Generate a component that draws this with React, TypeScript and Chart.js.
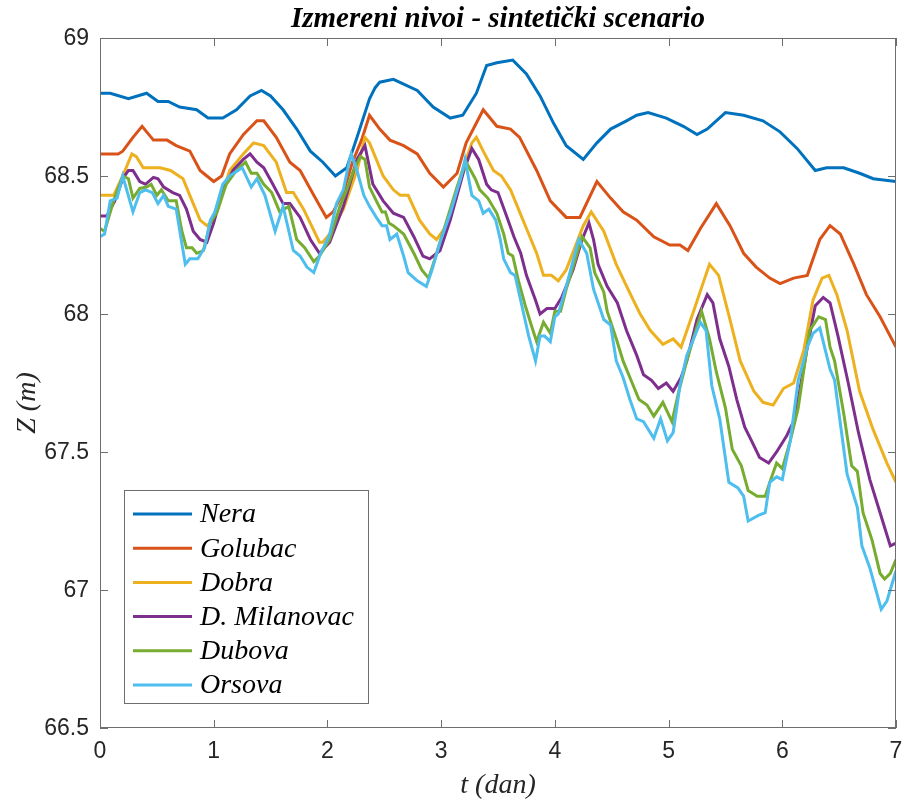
import { useEffect, useRef } from "react";
import { Chart, registerables } from "chart.js";

Chart.register(...registerables);

type Pt = [number, number]; // [t (dan), Z (m)]

const TITLE = "Izmereni nivoi - sintetički scenario";
const X_LABEL = "t (dan)";
const Y_LABEL = "Z (m)";
const X_TICKS = [0, 1, 2, 3, 4, 5, 6, 7];
const Y_TICKS = [66.5, 67, 67.5, 68, 68.5, 69];
const STATIONS = ["Nera", "Golubac", "Dobra", "D. Milanovac", "Dubova", "Orsova"];
const COLORS = ["#0072BD", "#D95319", "#EDB120", "#7E2F8E", "#77AC30", "#4DBEEE"];

const nera: Pt[] = [
  [0, 68.8], [0.09, 68.8], [0.25, 68.78], [0.41, 68.8], [0.51, 68.77], [0.6, 68.77],
  [0.7, 68.75], [0.85, 68.74], [0.95, 68.71], [1.08, 68.71], [1.2, 68.74], [1.32, 68.79],
  [1.42, 68.81], [1.5, 68.79], [1.61, 68.74], [1.73, 68.67], [1.85, 68.59], [1.96, 68.55],
  [2.07, 68.5], [2.17, 68.53], [2.26, 68.64], [2.37, 68.78], [2.42, 68.82], [2.46, 68.84],
  [2.58, 68.85], [2.79, 68.81], [2.93, 68.75], [3.08, 68.71], [3.19, 68.72], [3.31, 68.8],
  [3.4, 68.9], [3.49, 68.91], [3.63, 68.92], [3.75, 68.87], [3.87, 68.79], [3.99, 68.69],
  [4.1, 68.61], [4.25, 68.56], [4.37, 68.62], [4.49, 68.67], [4.63, 68.7], [4.72, 68.72],
  [4.82, 68.73], [4.98, 68.71], [5.13, 68.68], [5.25, 68.65], [5.34, 68.67], [5.5, 68.73],
  [5.66, 68.72], [5.83, 68.7], [5.98, 68.66], [6.13, 68.6], [6.29, 68.52], [6.39, 68.53],
  [6.54, 68.53], [6.68, 68.51], [6.8, 68.49], [7.0, 68.48],
];

const golubac: Pt[] = [
  [0, 68.58], [0.16, 68.58], [0.2, 68.59], [0.29, 68.64], [0.37, 68.68], [0.47, 68.63],
  [0.59, 68.63], [0.67, 68.61], [0.79, 68.59], [0.88, 68.52], [1.0, 68.48], [1.07, 68.5],
  [1.14, 68.58], [1.26, 68.65], [1.38, 68.7], [1.44, 68.7], [1.55, 68.64], [1.67, 68.55],
  [1.76, 68.52], [1.88, 68.43], [1.99, 68.35], [2.05, 68.37], [2.14, 68.44], [2.22, 68.55],
  [2.3, 68.63], [2.37, 68.72], [2.46, 68.67], [2.55, 68.63], [2.67, 68.61], [2.79, 68.58],
  [2.9, 68.51], [3.02, 68.46], [3.14, 68.51], [3.22, 68.62], [3.37, 68.74], [3.49, 68.68],
  [3.61, 68.67], [3.69, 68.64], [3.84, 68.52], [3.96, 68.41], [4.1, 68.35], [4.22, 68.35],
  [4.37, 68.48], [4.49, 68.42], [4.6, 68.37], [4.72, 68.34], [4.87, 68.28], [5.01, 68.25],
  [5.1, 68.25], [5.17, 68.23], [5.28, 68.31], [5.42, 68.4], [5.54, 68.32], [5.66, 68.22],
  [5.77, 68.17], [5.89, 68.13], [5.98, 68.11], [6.1, 68.13], [6.22, 68.14], [6.33, 68.27],
  [6.42, 68.32], [6.51, 68.29], [6.63, 68.18], [6.74, 68.07], [6.86, 67.99], [7.0, 67.88],
];

const dobra: Pt[] = [
  [0, 68.43], [0.12, 68.43], [0.2, 68.5], [0.28, 68.58], [0.32, 68.57], [0.38, 68.53],
  [0.53, 68.53], [0.62, 68.52], [0.73, 68.49], [0.79, 68.43], [0.88, 68.34], [0.94, 68.32],
  [1.0, 68.34], [1.14, 68.52], [1.26, 68.58], [1.35, 68.62], [1.44, 68.61], [1.55, 68.55],
  [1.64, 68.44], [1.7, 68.44], [1.79, 68.38], [1.93, 68.26], [1.96, 68.26], [2.02, 68.29],
  [2.14, 68.38], [2.26, 68.52], [2.33, 68.64], [2.37, 68.62], [2.49, 68.5], [2.58, 68.45],
  [2.64, 68.43], [2.71, 68.43], [2.81, 68.34], [2.9, 68.29], [2.96, 68.27], [3.05, 68.32],
  [3.17, 68.5], [3.27, 68.62], [3.31, 68.64], [3.37, 68.59], [3.46, 68.52], [3.53, 68.5],
  [3.61, 68.45], [3.68, 68.38], [3.77, 68.29], [3.84, 68.22], [3.9, 68.14], [3.97, 68.14],
  [4.03, 68.12], [4.1, 68.16], [4.25, 68.32], [4.32, 68.37], [4.43, 68.3], [4.54, 68.18],
  [4.62, 68.11], [4.69, 68.05], [4.75, 68.0], [4.84, 67.94], [4.95, 67.89], [5.04, 67.91],
  [5.11, 67.88], [5.22, 68.01], [5.31, 68.12], [5.36, 68.18], [5.44, 68.14], [5.54, 67.98],
  [5.63, 67.83], [5.75, 67.72], [5.83, 67.68], [5.92, 67.67], [6.01, 67.73], [6.1, 67.75],
  [6.19, 67.87], [6.27, 68.05], [6.35, 68.13], [6.41, 68.14], [6.48, 68.07], [6.57, 67.94],
  [6.68, 67.72], [6.8, 67.58], [6.92, 67.46], [7.0, 67.39],
];

const milanovac: Pt[] = [
  [0, 68.355], [0.06, 68.355], [0.13, 68.41], [0.2, 68.49], [0.25, 68.52], [0.29, 68.52],
  [0.35, 68.48], [0.4, 68.47], [0.47, 68.495], [0.51, 68.49], [0.56, 68.46], [0.64, 68.44],
  [0.7, 68.43], [0.76, 68.38], [0.82, 68.3], [0.88, 68.27], [0.94, 68.26], [1.0, 68.33],
  [1.08, 68.45], [1.17, 68.52], [1.26, 68.56], [1.32, 68.58], [1.38, 68.55], [1.44, 68.53],
  [1.52, 68.47], [1.61, 68.4], [1.67, 68.4], [1.76, 68.35], [1.85, 68.27], [1.93, 68.22],
  [2.02, 68.26], [2.14, 68.39], [2.26, 68.56], [2.33, 68.61], [2.4, 68.47], [2.49, 68.41],
  [2.58, 68.365], [2.67, 68.35], [2.76, 68.28], [2.84, 68.21], [2.9, 68.2], [2.99, 68.23],
  [3.08, 68.34], [3.2, 68.52], [3.27, 68.6], [3.33, 68.56], [3.4, 68.47], [3.44, 68.45],
  [3.5, 68.44], [3.58, 68.35], [3.64, 68.28], [3.7, 68.22], [3.75, 68.14], [3.83, 68.05],
  [3.87, 68.0], [3.93, 68.02], [4.0, 68.02], [4.06, 68.06], [4.16, 68.16], [4.24, 68.27],
  [4.3, 68.33], [4.34, 68.27], [4.38, 68.18], [4.46, 68.1], [4.55, 68.04], [4.63, 67.94],
  [4.72, 67.85], [4.78, 67.78], [4.85, 67.76], [4.91, 67.73], [4.98, 67.75], [5.04, 67.72],
  [5.11, 67.77], [5.16, 67.83], [5.25, 67.98], [5.34, 68.07], [5.39, 68.04], [5.45, 67.91],
  [5.53, 67.81], [5.6, 67.69], [5.67, 67.59], [5.73, 67.54], [5.8, 67.48], [5.88, 67.46],
  [5.95, 67.5], [6.04, 67.56], [6.11, 67.62], [6.22, 67.88], [6.29, 68.03], [6.36, 68.06],
  [6.42, 68.04], [6.49, 67.92], [6.58, 67.75], [6.67, 67.57], [6.77, 67.4], [6.86, 67.28],
  [6.95, 67.16], [7.0, 67.17],
];

const dubova: Pt[] = [
  [0, 68.31], [0.04, 68.3], [0.12, 68.41], [0.2, 68.5], [0.25, 68.49], [0.29, 68.42],
  [0.35, 68.455], [0.41, 68.46], [0.45, 68.47], [0.5, 68.43], [0.54, 68.45], [0.6, 68.41],
  [0.67, 68.41], [0.72, 68.3], [0.76, 68.24], [0.81, 68.24], [0.85, 68.22], [0.91, 68.23],
  [0.97, 68.33], [1.03, 68.37], [1.11, 68.47], [1.2, 68.52], [1.28, 68.55], [1.33, 68.51],
  [1.38, 68.51], [1.44, 68.47], [1.51, 68.44], [1.58, 68.37], [1.66, 68.39], [1.73, 68.27],
  [1.8, 68.24], [1.88, 68.19], [1.93, 68.21], [2.02, 68.27], [2.11, 68.39], [2.17, 68.45],
  [2.23, 68.52], [2.29, 68.57], [2.33, 68.56], [2.37, 68.46], [2.43, 68.41], [2.48, 68.37],
  [2.51, 68.37], [2.54, 68.33], [2.58, 68.32], [2.67, 68.29], [2.76, 68.22], [2.83, 68.16],
  [2.89, 68.13], [2.93, 68.18], [2.99, 68.26], [3.08, 68.38], [3.14, 68.46], [3.22, 68.55],
  [3.3, 68.49], [3.34, 68.45], [3.41, 68.42], [3.49, 68.365], [3.55, 68.29], [3.59, 68.22],
  [3.63, 68.21], [3.68, 68.12], [3.74, 68.03], [3.8, 67.95], [3.84, 67.9], [3.9, 67.97],
  [3.96, 67.93], [4.0, 68.01], [4.05, 68.01], [4.1, 68.09], [4.16, 68.17], [4.24, 68.28],
  [4.31, 68.24], [4.35, 68.15], [4.43, 68.08], [4.46, 68.01], [4.54, 67.91], [4.6, 67.83],
  [4.68, 67.75], [4.74, 67.69], [4.81, 67.67], [4.87, 67.63], [4.95, 67.68], [5.03, 67.61],
  [5.09, 67.72], [5.16, 67.83], [5.29, 68.01], [5.36, 67.91], [5.42, 67.79], [5.5, 67.66],
  [5.56, 67.51], [5.64, 67.45], [5.7, 67.36], [5.78, 67.34], [5.85, 67.34], [5.89, 67.39],
  [5.95, 67.46], [6.0, 67.44], [6.07, 67.54], [6.14, 67.66], [6.24, 67.94], [6.32, 67.99],
  [6.38, 67.98], [6.42, 67.88], [6.46, 67.83], [6.54, 67.64], [6.61, 67.45], [6.66, 67.43],
  [6.71, 67.28], [6.79, 67.18], [6.86, 67.06], [6.9, 67.04], [6.95, 67.06], [7.0, 67.11],
];

const orsova: Pt[] = [
  [0, 68.28], [0.04, 68.29], [0.09, 68.41], [0.15, 68.42], [0.2, 68.5], [0.29, 68.37],
  [0.35, 68.44], [0.4, 68.45], [0.46, 68.44], [0.51, 68.4], [0.56, 68.43], [0.6, 68.39],
  [0.67, 68.38], [0.75, 68.18], [0.79, 68.2], [0.86, 68.2], [0.92, 68.24], [0.97, 68.34],
  [1.01, 68.37], [1.08, 68.47], [1.14, 68.5], [1.25, 68.53], [1.33, 68.46], [1.38, 68.49],
  [1.45, 68.43], [1.54, 68.3], [1.61, 68.39], [1.7, 68.23], [1.76, 68.21], [1.82, 68.17],
  [1.88, 68.15], [1.94, 68.22], [2.0, 68.27], [2.02, 68.29], [2.08, 68.4], [2.14, 68.45],
  [2.19, 68.55], [2.21, 68.58], [2.26, 68.52], [2.32, 68.43], [2.37, 68.39], [2.43, 68.35],
  [2.48, 68.32], [2.52, 68.32], [2.55, 68.27], [2.61, 68.29], [2.67, 68.21], [2.71, 68.15],
  [2.79, 68.12], [2.87, 68.1], [2.92, 68.16], [2.99, 68.26], [3.08, 68.365], [3.17, 68.49],
  [3.21, 68.56], [3.27, 68.43], [3.33, 68.41], [3.37, 68.365], [3.42, 68.38], [3.48, 68.34],
  [3.52, 68.27], [3.55, 68.2], [3.61, 68.15], [3.65, 68.14], [3.71, 68.03], [3.77, 67.92],
  [3.83, 67.83], [3.87, 67.92], [3.91, 67.92], [3.96, 67.9], [4.0, 67.99], [4.03, 68.0],
  [4.1, 68.1], [4.21, 68.27], [4.28, 68.22], [4.34, 68.09], [4.43, 67.98], [4.49, 67.96],
  [4.54, 67.83], [4.6, 67.77], [4.66, 67.69], [4.72, 67.62], [4.78, 67.61], [4.87, 67.55],
  [4.93, 67.62], [4.99, 67.54], [5.04, 67.57], [5.1, 67.74], [5.16, 67.85], [5.28, 67.97],
  [5.33, 67.94], [5.38, 67.74], [5.45, 67.62], [5.53, 67.39], [5.61, 67.37], [5.66, 67.34],
  [5.7, 67.25], [5.79, 67.27], [5.85, 67.28], [5.89, 67.39], [5.95, 67.41], [6.0, 67.4],
  [6.07, 67.54], [6.14, 67.76], [6.22, 67.88], [6.27, 67.93], [6.33, 67.95], [6.42, 67.8],
  [6.46, 67.76], [6.57, 67.42], [6.66, 67.3], [6.7, 67.16], [6.77, 67.08], [6.83, 66.99],
  [6.87, 66.93], [6.92, 66.96], [7.0, 67.07],
];

const SERIES: Pt[][] = [nera, golubac, dobra, milanovac, dubova, orsova];

const AXIS_COLOR = "#6e6e6e";
const TEXT_COLOR = "#262626";
const SANS = "'Liberation Sans', Arial, sans-serif";
const SERIF = "'Liberation Serif', 'Times New Roman', serif";
const LINE_WIDTH = 3;

const fmtY = (v: number) => (Number.isInteger(v) ? String(v) : v.toFixed(1));

// Axes box with inward ticks on all four sides, labels, title and boxed legend
const frame = {
  id: "frame",
  beforeDraw(chart: any) {
    const { ctx, width, height } = chart;
    ctx.save();
    ctx.fillStyle = "#ffffff";
    ctx.fillRect(0, 0, width, height);
    ctx.restore();
  },
  afterDatasetsDraw(chart: any) {
    const { ctx, chartArea: a, scales } = chart;
    const xs = scales.x;
    const ys = scales.y;
    const tick = 8;
    ctx.save();

    // box
    ctx.strokeStyle = AXIS_COLOR;
    ctx.lineWidth = 1;
    ctx.strokeRect(a.left + 0.5, a.top + 0.5, a.right - a.left - 1, a.bottom - a.top - 1);

    ctx.beginPath();
    for (const v of X_TICKS) {
      const px = Math.round(xs.getPixelForValue(v)) + 0.5;
      ctx.moveTo(px, a.bottom);
      ctx.lineTo(px, a.bottom - tick);
      ctx.moveTo(px, a.top);
      ctx.lineTo(px, a.top + tick);
    }
    for (const v of Y_TICKS) {
      const py = Math.round(ys.getPixelForValue(v)) + 0.5;
      ctx.moveTo(a.left, py);
      ctx.lineTo(a.left + tick, py);
      ctx.moveTo(a.right, py);
      ctx.lineTo(a.right - tick, py);
    }
    ctx.stroke();

    // tick labels
    ctx.fillStyle = TEXT_COLOR;
    ctx.font = `23px ${SANS}`;
    ctx.textAlign = "center";
    ctx.textBaseline = "top";
    for (const v of X_TICKS) {
      ctx.fillText(String(v), xs.getPixelForValue(v), a.bottom + 12);
    }
    ctx.textAlign = "right";
    ctx.textBaseline = "middle";
    for (const v of Y_TICKS) {
      ctx.fillText(fmtY(v), a.left - 11, ys.getPixelForValue(v) + 1);
    }

    // axis titles
    ctx.font = `italic 28px ${SERIF}`;
    ctx.textAlign = "center";
    ctx.textBaseline = "middle";
    ctx.fillText(X_LABEL, (a.left + a.right) / 2, a.bottom + 58);
    ctx.save();
    ctx.translate(a.left - 72, (a.top + a.bottom) / 2 + 20);
    ctx.rotate(-Math.PI / 2);
    ctx.fillText(Y_LABEL, 0, 0);
    ctx.restore();

    // title
    ctx.fillStyle = "#000000";
    ctx.font = `italic bold 29px ${SERIF}`;
    ctx.fillText(TITLE, (a.left + a.right) / 2, a.top - 18);

    // legend
    const lx = a.left + 24;
    const ly = a.bottom - 238;
    const lw = 244;
    const lh = 213;
    ctx.fillStyle = "#ffffff";
    ctx.fillRect(lx, ly, lw, lh);
    ctx.strokeStyle = AXIS_COLOR;
    ctx.lineWidth = 1;
    ctx.strokeRect(lx + 0.5, ly + 0.5, lw, lh);
    ctx.font = `italic 28px ${SERIF}`;
    ctx.textAlign = "left";
    ctx.textBaseline = "middle";
    chart.data.datasets.forEach((ds: any, i: number) => {
      const cy = ly + 24 + i * 34.2;
      ctx.strokeStyle = ds.borderColor;
      ctx.lineWidth = LINE_WIDTH;
      ctx.beginPath();
      ctx.moveTo(lx + 9, cy);
      ctx.lineTo(lx + 68, cy);
      ctx.stroke();
      ctx.fillStyle = "#000000";
      ctx.fillText(ds.label, lx + 76, cy + 1);
    });

    ctx.restore();
  },
};

export default function App() {
  const ref = useRef<HTMLCanvasElement | null>(null);

  useEffect(() => {
    if (!ref.current) return;
    const chart = new Chart(ref.current, {
      type: "line",
      data: {
        datasets: SERIES.map((s, i) => ({
          label: STATIONS[i],
          data: s.map(([x, y]) => ({ x, y })),
          borderColor: COLORS[i],
          backgroundColor: COLORS[i],
          borderWidth: LINE_WIDTH,
          pointRadius: 0,
          tension: 0,
          fill: false,
          order: SERIES.length - i,
        })),
      },
      options: {
        responsive: false,
        animation: false,
        devicePixelRatio: 1,
        layout: { padding: { top: 38, right: 8, left: 0, bottom: 0 } },
        plugins: {
          legend: { display: false },
          title: { display: false },
          tooltip: { enabled: false },
        },
        scales: {
          x: {
            type: "linear",
            min: 0,
            max: 7,
            ticks: { display: false, stepSize: 1 },
            grid: { display: false },
            border: { display: false },
            afterFit: (s: any) => {
              s.height = 74;
            },
          },
          y: {
            type: "linear",
            min: 66.5,
            max: 69,
            ticks: { display: false, stepSize: 0.5 },
            grid: { display: false },
            border: { display: false },
            afterFit: (s: any) => {
              s.width = 100;
            },
          },
        },
      },
      plugins: [frame],
    });
    return () => chart.destroy();
  }, []);

  return (
    <div style={{ position: "absolute", left: 0, top: 0, width: 904, height: 802 }}>
      <canvas ref={ref} width={904} height={802} style={{ display: "block" }} />
    </div>
  );
}
